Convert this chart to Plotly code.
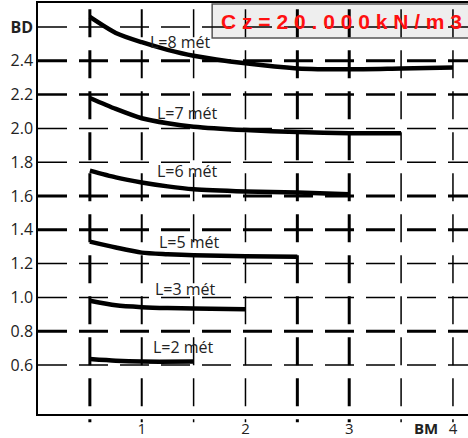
import plotly.graph_objects as go

# ---- data ----
series_names = ["L=8 mét", "L=7 mét", "L=6 mét", "L=5 mét", "L=3 mét", "L=2 mét"]
x_L8 = [0.5, 0.75, 1.0, 1.25, 1.5, 2.0, 2.5, 3.0, 3.5, 4.0]
y_L8 = [2.66, 2.565, 2.51, 2.465, 2.43, 2.385, 2.355, 2.35, 2.355, 2.36]
x_L7 = [0.5, 0.75, 1.0, 1.25, 1.5, 2.0, 2.5, 3.0, 3.5]
y_L7 = [2.18, 2.115, 2.06, 2.03, 2.01, 1.99, 1.978, 1.972, 1.972]
x_L6 = [0.5, 0.75, 1.0, 1.25, 1.5, 2.0, 2.5, 3.0]
y_L6 = [1.75, 1.71, 1.68, 1.657, 1.64, 1.627, 1.621, 1.611]
x_L5 = [0.5, 0.75, 1.0, 1.25, 1.5, 2.0, 2.5]
y_L5 = [1.33, 1.295, 1.265, 1.256, 1.25, 1.243, 1.24]
x_L3 = [0.5, 0.75, 1.0, 1.25, 1.5, 2.0]
y_L3 = [0.98, 0.953, 0.942, 0.937, 0.935, 0.93]
x_L2 = [0.5, 0.75, 1.0, 1.5]
y_L2 = [0.635, 0.625, 0.62, 0.62]

# label anchor points (data coords)
label_x = [1.37, 1.44, 1.44, 1.465, 1.42, 1.40]
label_y = [2.51, 2.09, 1.748, 1.328, 1.05, 0.707]

y_tickvals = [0.6, 0.8, 1.0, 1.2, 1.4, 1.6, 1.8, 2.0, 2.2, 2.4, 2.6]
y_ticktext = ["0.6", "0.8", "1.0", "1.2", "1.4", "1.6", "1.8", "2.0", "2.2", "2.4", "<b>BD</b>"]
x_tickvals = [1, 2, 3, 3.74, 4]
x_ticktext = ["1", "2", "3", "<b>BM</b>", "4"]

title_text = "C z = 2 0 . 0 0 0 k N / m 3"

# grid definition (positions follow the ticks; widths are style)
hgrid_vals = [0.6, 0.8, 1.0, 1.2, 1.4, 1.6, 1.8, 2.0, 2.2, 2.4, 2.6]
hgrid_width = [1.5, 3, 1.5, 1.5, 3, 3, 1.5, 1.5, 2.5, 3, 1.5]
vgrid_vals = [0.5, 1, 1.5, 2, 2.5, 3, 3.5, 4]
vgrid_width = [3, 2, 1.5, 1.5, 3, 3, 1.5, 1.5]

X_RANGE = [0, 4.145]
Y_RANGE = [0.310, 2.742]

xs = [x_L8, x_L7, x_L6, x_L5, x_L3, x_L2]
ys = [y_L8, y_L7, y_L6, y_L5, y_L3, y_L2]

fig = go.Figure()
for name, xv, yv in zip(series_names, xs, ys):
    fig.add_trace(go.Scatter(x=xv, y=yv, mode="lines", name=name,
                             line=dict(color="black", width=4.5, shape="spline", smoothing=0.7),
                             showlegend=False, hoverinfo="skip"))

shapes = []
# title box
shapes.append(dict(type="rect", xref="paper", yref="paper", x0=0.405, x1=1.05, y0=0.915, y1=0.9976,
                   fillcolor="#eeeeee", line=dict(color="#555555", width=1.5), layer="below"))
for v, w in zip(hgrid_vals, hgrid_width):
    shapes.append(dict(type="line", xref="x", yref="y", x0=X_RANGE[0], x1=X_RANGE[1], y0=v, y1=v,
                       line=dict(color="black", width=w, dash="29px,12px"), layer="above"))
for v, w in zip(vgrid_vals, vgrid_width):
    shapes.append(dict(type="line", xref="x", yref="paper", x0=v, x1=v, y0=0.985, y1=-0.02,
                       line=dict(color="black", width=w, dash="28px,13px"), layer="above"))

annotations = []
for t, lx, ly in zip(series_names, label_x, label_y):
    annotations.append(dict(x=lx, y=ly, xref="x", yref="y", text=t, showarrow=False,
                            font=dict(family="Open Sans", size=16, color="#222222"),
                            xanchor="center", yanchor="middle"))
annotations.append(dict(x=0.422, y=0.955, xref="paper", yref="paper", text=title_text,
                        showarrow=False, xanchor="left", yanchor="middle",
                        font=dict(family="Liberation Sans", size=21, color="#ff1010", weight="bold")))

fig.update_layout(
    width=468, height=438,
    margin=dict(l=38, r=0, t=3, b=24),
    paper_bgcolor="white", plot_bgcolor="white",
    shapes=shapes, annotations=annotations,
    font=dict(family="Open Sans", size=16, color="#222222"),
    xaxis=dict(range=X_RANGE, showgrid=False, zeroline=False, showline=True, mirror=True,
               linecolor="black", linewidth=1.5, tickvals=x_tickvals, ticktext=x_ticktext,
               ticks="", tickfont=dict(size=15), automargin=False, fixedrange=True),
    yaxis=dict(range=Y_RANGE, showgrid=False, zeroline=False, showline=True, mirror=False,
               linecolor="black", linewidth=1.5, tickvals=y_tickvals, ticktext=y_ticktext,
               ticks="", tickfont=dict(size=16), automargin=False, fixedrange=True),
)

fig.write_html("out.html", config={"displayModeBar": False},
               post_script="document.body.style.margin='0';document.body.style.overflow='hidden';")
